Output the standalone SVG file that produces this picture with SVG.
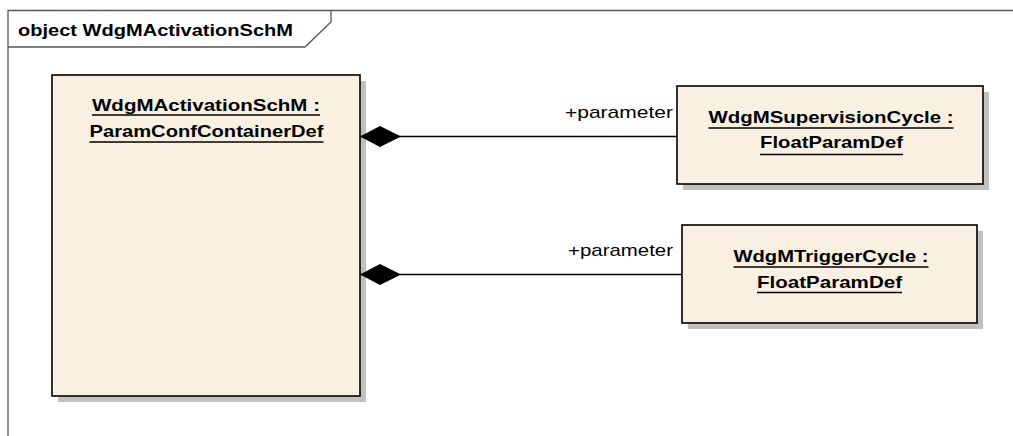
<svg xmlns="http://www.w3.org/2000/svg" width="1013" height="436" viewBox="0 0 1013 436">
<style>
.frame{fill:none;stroke:#555;stroke-width:1.3}
.box{fill:#F9F0E2;stroke:#000;stroke-width:1.6}
.shadow{fill:#C0C0C0}
.t{font-family:"Liberation Sans",Arial,sans-serif;font-weight:bold;font-size:17px;fill:#000}
.ul{stroke:#000;stroke-width:1.5}
.lbl{font-family:"Liberation Sans",Arial,sans-serif;font-size:17px;fill:#000}
.conn{stroke:#000;stroke-width:1.6;fill:none}
</style>
<defs>
<marker id="diamond" markerWidth="44" markerHeight="24" refX="1" refY="11" orient="auto" markerUnits="userSpaceOnUse">
<path d="M1,11 L21,0.5 L42,11 L21,21.5 Z" fill="#000"/>
</marker>
</defs>
<rect width="1013" height="436" fill="#fff"/>
<g id="frame">
<path class="frame" d="M8,436 L8,10.5 L1013,10.5"/>
<path class="frame" d="M8,47 L305,47 L331,22 L331,10.5"/>
<text class="t" x="18" y="35.5" textLength="275" lengthAdjust="spacingAndGlyphs">object WdgMActivationSchM</text>
</g>
<g id="node-activation">
<rect class="shadow" x="58" y="81" width="308" height="321"/>
<rect class="box" x="52" y="75" width="308" height="321"/>
<text class="t" x="92" y="110.5" textLength="228" lengthAdjust="spacingAndGlyphs">WdgMActivationSchM :</text>
<line class="ul" x1="92" y1="115" x2="320" y2="115"/>
<text class="t" x="89.5" y="136.5" textLength="234" lengthAdjust="spacingAndGlyphs">ParamConfContainerDef</text>
<line class="ul" x1="89.5" y1="142" x2="323.5" y2="142"/>
</g>
<g id="node-supervision">
<rect class="shadow" x="683" y="92" width="306" height="98"/>
<rect class="box" x="677" y="86" width="306" height="98"/>
<text class="t" x="708.5" y="122.5" textLength="245" lengthAdjust="spacingAndGlyphs">WdgMSupervisionCycle :</text>
<line class="ul" x1="708.5" y1="128" x2="953.5" y2="128"/>
<text class="t" x="760" y="148" textLength="143" lengthAdjust="spacingAndGlyphs">FloatParamDef</text>
<line class="ul" x1="760" y1="154.5" x2="903" y2="154.5"/>
</g>
<g id="node-trigger">
<rect class="shadow" x="688" y="231" width="295" height="98"/>
<rect class="box" x="682" y="225" width="295" height="98"/>
<text class="t" x="733.5" y="261.5" textLength="195" lengthAdjust="spacingAndGlyphs">WdgMTriggerCycle :</text>
<line class="ul" x1="733.5" y1="267" x2="928.5" y2="267"/>
<text class="t" x="757" y="287.5" textLength="145" lengthAdjust="spacingAndGlyphs">FloatParamDef</text>
<line class="ul" x1="757" y1="292.5" x2="902" y2="292.5"/>
</g>
<g id="connectors">
<line class="conn" x1="360" y1="136.5" x2="677" y2="136.5" marker-start="url(#diamond)"/>
<text class="lbl" x="565" y="117.5" textLength="108" lengthAdjust="spacingAndGlyphs">+parameter</text>
<line class="conn" x1="360" y1="274.5" x2="682" y2="274.5" marker-start="url(#diamond)"/>
<text class="lbl" x="568" y="256" textLength="105" lengthAdjust="spacingAndGlyphs">+parameter</text>
</g>
</svg>
